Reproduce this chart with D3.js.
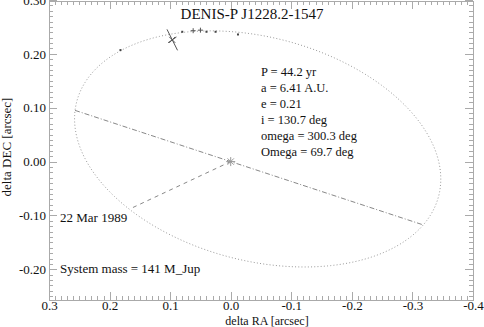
<!DOCTYPE html>
<html>
<head>
<meta charset="utf-8">
<script src="https://cdn.jsdelivr.net/npm/d3@7"></script>
<style>
  body { margin: 0; background: #fff; }
  text { font-family: "Liberation Serif", "Times New Roman", serif; fill: #111; }
  .axis path, .axis line { stroke: #aaa; stroke-width: 1; shape-rendering: crispEdges; }
  .axis text { font-family: "Liberation Serif", serif; font-size: 13px; fill: #111; }
</style>
</head>
<body>
<svg class="chart"></svg>
<script>
// Data _____________________________________
const title = 'DENIS-P J1228.2-1547'

// orbital elements shown in the legend
const period = 44.2      // yr
const semiAxisAU = 6.41  // A.U.
const ecc = 0.21
const incl = 130.7       // deg
const omega = 300.3      // deg
const bigOmega = 69.7    // deg
const semiAxisArcsec = 0.317  // apparent size

const paramLines = [
  'P = ' + period + ' yr',
  'a = ' + semiAxisAU + ' A.U.',
  'e = ' + ecc,
  'i = ' + incl + ' deg',
  'omega = ' + omega + ' deg',
  'Omega = ' + bigOmega + ' deg'
]

// measured positions (delta RA, delta DEC in arcsec)
const obsRA  = [0.182, 0.080, 0.040, 0.025, -0.012]
const obsDec = [0.207, 0.241, 0.241, 0.241, 0.236]
const plusRA  = [0.062, 0.050]
const plusDec = [0.243, 0.244]

// first epoch (22 Mar 1989) with its error cross
const firstRA = 0.0965, firstDec = 0.226
const errLong  = [-0.0087, -0.0195]
const errShort = [-0.0069, 0.0053]

const xTicks = [0.3, 0.2, 0.1, 0.0, -0.1, -0.2, -0.3, -0.4]
const yTicks = [-0.20, -0.10, 0.00, 0.10, 0.20, 0.30]

// Chart Size Setup _____________________________________
const width = 484, height = 327
const plotLeft = 49, plotRight = 473, plotTop = 0, plotBottom = 300

const svg = d3.select(".chart")
    .attr("width", width)
    .attr("height", height)

// Scales _____________________________________
const x = d3.scaleLinear().domain([0.3, -0.4]).range([plotLeft, plotRight])
const y = d3.scaleLinear().domain([-0.257, 0.3]).range([plotBottom, plotTop])

// Axes (ticks pointing inside, minor ticks every 0.01) ____________
const xMinor = d3.range(-40, 31).map(d => d / 100)
const yMinor = d3.range(-25, 31).map(d => d / 100)

// plain hyphen for negatives, like the original plot
const fmt1 = d => d.toFixed(1)
const fmt2 = d => d.toFixed(2)

function addAxis(axisFn, scale, values, size, fmt, transform, pad) {
  svg.append("g")
      .attr("class", "axis")
      .attr("transform", transform)
      .call(axisFn(scale).tickValues(values).tickSizeInner(size).tickSizeOuter(0)
        .tickPadding(pad || 3).tickFormat(fmt))
}

addAxis(d3.axisBottom, x, xMinor, -4, "", `translate(0,${plotBottom})`)
addAxis(d3.axisBottom, x, xTicks, -8, fmt1, `translate(0,${plotBottom})`, 1)
addAxis(d3.axisTop, x, xMinor, -4, "", `translate(0,${plotTop + 0.5})`)
addAxis(d3.axisTop, x, xTicks, -8, "", `translate(0,${plotTop + 0.5})`)
addAxis(d3.axisLeft, y, yMinor, -4, "", `translate(${plotLeft},0)`)
addAxis(d3.axisLeft, y, yTicks, -8, fmt2, `translate(${plotLeft},0)`)
addAxis(d3.axisRight, y, yMinor, -4, "", `translate(${plotRight},0)`)
addAxis(d3.axisRight, y, yTicks, -8, "", `translate(${plotRight},0)`)

// Orbit from the elements (Thiele-Innes constants) _____________________
const rad = Math.PI / 180
const cw = Math.cos(omega * rad), sw = Math.sin(omega * rad)
const cO = Math.cos(bigOmega * rad), sO = Math.sin(bigOmega * rad)
const ci = Math.cos(incl * rad)
const A = semiAxisArcsec * (cw * cO - sw * sO * ci)
const B = semiAxisArcsec * (cw * sO + sw * cO * ci)
const F = semiAxisArcsec * (-sw * cO - cw * sO * ci)
const G = semiAxisArcsec * (-sw * sO + cw * cO * ci)

function orbitPos(E) {
  const X = Math.cos(E) - ecc
  const Y = Math.sqrt(1 - ecc * ecc) * Math.sin(E)
  return { ra: B * X + G * Y, dec: A * X + F * Y }
}

const anomalies = d3.range(0, 361, 1).map(d => d * rad)
const orbit = anomalies.map(orbitPos)

const line = d3.line()
    .x(d => x(d.ra))
    .y(d => y(d.dec))

svg.append("path")
    .datum(orbit)
    .attr("fill", "none")
    .attr("stroke", "#999")
    .attr("stroke-width", 1)
    .attr("stroke-dasharray", "1,2.2")
    .attr("d", line)

// line of nodes (dash dot) and periastron (dashed)
const nu1 = -omega * rad, nu2 = Math.PI - omega * rad
const rNode = nu => semiAxisArcsec * (1 - ecc * ecc) / (1 + ecc * Math.cos(nu))
const nodes = [
  { ra: rNode(nu1) * sO, dec: rNode(nu1) * cO },
  { ra: -rNode(nu2) * sO, dec: -rNode(nu2) * cO }
]
svg.append("path")
    .datum(nodes)
    .attr("fill", "none")
    .attr("stroke", "#888")
    .attr("stroke-dasharray", "5,2,1,2")
    .attr("d", line)

svg.append("path")
    .datum([{ ra: 0, dec: 0 }, orbitPos(0)])
    .attr("fill", "none")
    .attr("stroke", "#888")
    .attr("stroke-dasharray", "4,4")
    .attr("d", line)

// star at the origin (asterisk)
const star = svg.append("g")
    .attr("transform", `translate(${x(0)},${y(0)})`)
    .attr("stroke", "#999")
d3.range(0, 180, 45).forEach(function(a) {
  star.append("line")
      .attr("x1", -4.5 * Math.cos(a * rad)).attr("y1", -4.5 * Math.sin(a * rad))
      .attr("x2", 4.5 * Math.cos(a * rad)).attr("y2", 4.5 * Math.sin(a * rad))
})

// Observations _____________________________________
svg.append("g")
  .selectAll("rect")
  .data(obsRA.map((r, i) => ({ ra: r, dec: obsDec[i] })))
  .join("rect")
    .attr("x", d => x(d.ra) - 1)
    .attr("y", d => y(d.dec) - 1)
    .attr("width", 2)
    .attr("height", 2)
    .attr("fill", "#444")

svg.append("g")
  .selectAll("path")
  .data(plusRA.map((r, i) => ({ ra: r, dec: plusDec[i] })))
  .join("path")
    .attr("d", d => `M${x(d.ra) - 2.5},${y(d.dec)}h5M${x(d.ra)},${y(d.dec) - 2.5}v5`)
    .attr("stroke", "#555")
    .attr("fill", "none")

const fx = x(firstRA), fy = y(firstDec)
const errPath = [errLong, errShort].map(e => {
  const dx = x(firstRA + e[0]) - fx, dy = y(firstDec + e[1]) - fy
  return `M${fx - dx},${fy - dy}L${fx + dx},${fy + dy}`
}).join('')
svg.append("path")
    .attr("d", errPath + `M${fx - 3},${fy - 3}l6,6M${fx - 3},${fy + 3}l6,-6`)
    .attr("stroke", "#555")
    .attr("fill", "none")

// Text _____________________________________
svg.append("text")
    .text(title)
    .attr("x", 252)
    .attr("y", 19)
    .attr("text-anchor", "middle")
    .style("font-size", "15px")

svg.append("g")
  .selectAll("text")
  .data(paramLines)
  .join("text")
    .text(d => d)
    .attr("x", 261)
    .attr("y", (d, i) => 76 + i * 16)
    .style("font-size", "12.5px")

svg.append("text")
    .text('22 Mar 1989')
    .attr("x", 60)
    .attr("y", 222)
    .style("font-size", "13px")

svg.append("text")
    .text('System mass = 141 M_Jup')
    .attr("x", 60)
    .attr("y", 273)
    .style("font-size", "13px")

svg.append("text")
    .text('delta RA [arcsec]')
    .attr("x", 267)
    .attr("y", 324.5)
    .attr("text-anchor", "middle")
    .style("font-size", "12px")

svg.append("text")
    .text('delta DEC [arcsec]')
    .attr("transform", "translate(11,147) rotate(-90)")
    .attr("text-anchor", "middle")
    .style("font-size", "13px")
</script>
</body>
</html>
